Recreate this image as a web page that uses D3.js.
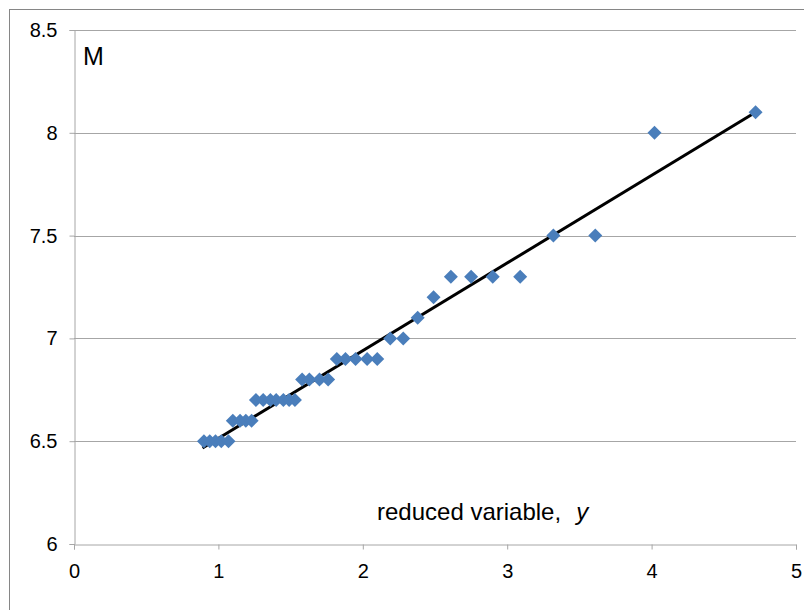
<!DOCTYPE html>
<html>
<head>
<meta charset="utf-8">
<script src="https://cdn.jsdelivr.net/npm/d3@7"></script>
<style>
  body { margin: 0; background: #fff; }
  text { font-family: "Liberation Sans", Arial, sans-serif; }
</style>
</head>
<body>
<div id="plot"></div>
<script>
// data
var reducedY = [0.90, 0.94, 0.98, 1.02, 1.07,
                1.10, 1.15, 1.19, 1.23,
                1.26, 1.31, 1.36, 1.40, 1.45, 1.49, 1.53,
                1.58, 1.63, 1.70, 1.76,
                1.82, 1.88, 1.95, 2.03, 2.10,
                2.19, 2.28, 2.38, 2.49,
                2.61, 2.75, 2.90, 3.09,
                3.32, 3.61, 4.02, 4.72];
var magnitude = [6.5, 6.5, 6.5, 6.5, 6.5,
                 6.6, 6.6, 6.6, 6.6,
                 6.7, 6.7, 6.7, 6.7, 6.7, 6.7, 6.7,
                 6.8, 6.8, 6.8, 6.8,
                 6.9, 6.9, 6.9, 6.9, 6.9,
                 7.0, 7.0, 7.1, 7.2,
                 7.3, 7.3, 7.3, 7.3,
                 7.5, 7.5, 8.0, 8.1];
var fitX = [0.89, 4.72];
var fitM = [6.467, 8.10];
var xTicks = [0, 1, 2, 3, 4, 5];
var yTicks = [6, 6.5, 7, 7.5, 8, 8.5];

var margin = {top: 30, right: 8, bottom: 66, left: 74},
    width = 804 - margin.left - margin.right,
    height = 610 - margin.top - margin.bottom;

var x = d3.scaleLinear().domain([0, 5]).range([0, width]);
var y = d3.scaleLinear().domain([6, 8.5]).range([height, 0]);

var root = d3.select("#plot").append("svg")
    .attr("width", 804)
    .attr("height", 610);

// outer chart border
root.append("rect")
    .attr("x", 9.5).attr("y", 9.5)
    .attr("width", 810).attr("height", 620)
    .attr("fill", "none")
    .attr("stroke", "#868686")
    .attr("stroke-width", 1);

var svg = root.append("g")
    .attr("transform", "translate(" + margin.left + "," + margin.top + ")");

// gridlines
svg.append("g")
  .selectAll("line")
    .data(yTicks.slice(1))
  .enter().append("line")
    .attr("x1", 0).attr("x2", width)
    .attr("y1", function(d) { return Math.round(y(d)) + 0.5; })
    .attr("y2", function(d) { return Math.round(y(d)) + 0.5; })
    .attr("stroke", "#a6a6a6");

// x axis
var xAxis = svg.append("g")
    .attr("transform", "translate(0," + (Math.round(height) + 0.5) + ")")
    .call(d3.axisBottom(x).tickValues(xTicks).tickSize(5).tickPadding(14).tickFormat(d3.format("d")));

// y axis
var yAxis = svg.append("g")
    .attr("transform", "translate(0.5,0)")
    .call(d3.axisLeft(y).tickValues(yTicks).tickSize(5).tickPadding(12).tickFormat(function(d) { return d; }));

[xAxis, yAxis].forEach(function(a) {
  a.select(".domain").attr("stroke", "#a6a6a6").attr("stroke-width", 1);
  a.selectAll(".tick line").attr("stroke", "#a6a6a6");
  a.selectAll(".tick text").attr("font-size", 20).attr("fill", "#000")
    .attr("font-family", "'Liberation Sans', Arial, sans-serif");
});

// fitted line
var line = d3.line()
    .x(function(d) { return x(d[0]); })
    .y(function(d) { return y(d[1]); });

svg.append("path")
    .datum(d3.zip(fitX, fitM))
    .attr("d", line)
    .attr("fill", "none")
    .attr("stroke", "#000")
    .attr("stroke-width", 3);

// points
var diamond = d3.symbol().type(d3.symbolDiamond2).size(125);
svg.selectAll("path.dot")
    .data(d3.zip(reducedY, magnitude))
  .enter().append("path")
    .attr("class", "dot")
    .attr("d", diamond)
    .attr("transform", function(d) { return "translate(" + x(d[0]) + "," + y(d[1]) + ")"; })
    .attr("fill", "#4a7ebb");

// labels
svg.append("text")
    .attr("x", 9).attr("y", 35)
    .attr("font-size", 25)
    .text("M");

var xl = svg.append("text")
    .attr("x", 303).attr("y", 490)
    .attr("font-size", 24);
xl.append("tspan").text("reduced variable,");
xl.append("tspan").attr("dx", 15).attr("font-style", "italic").text("y");
</script>
</body>
</html>
